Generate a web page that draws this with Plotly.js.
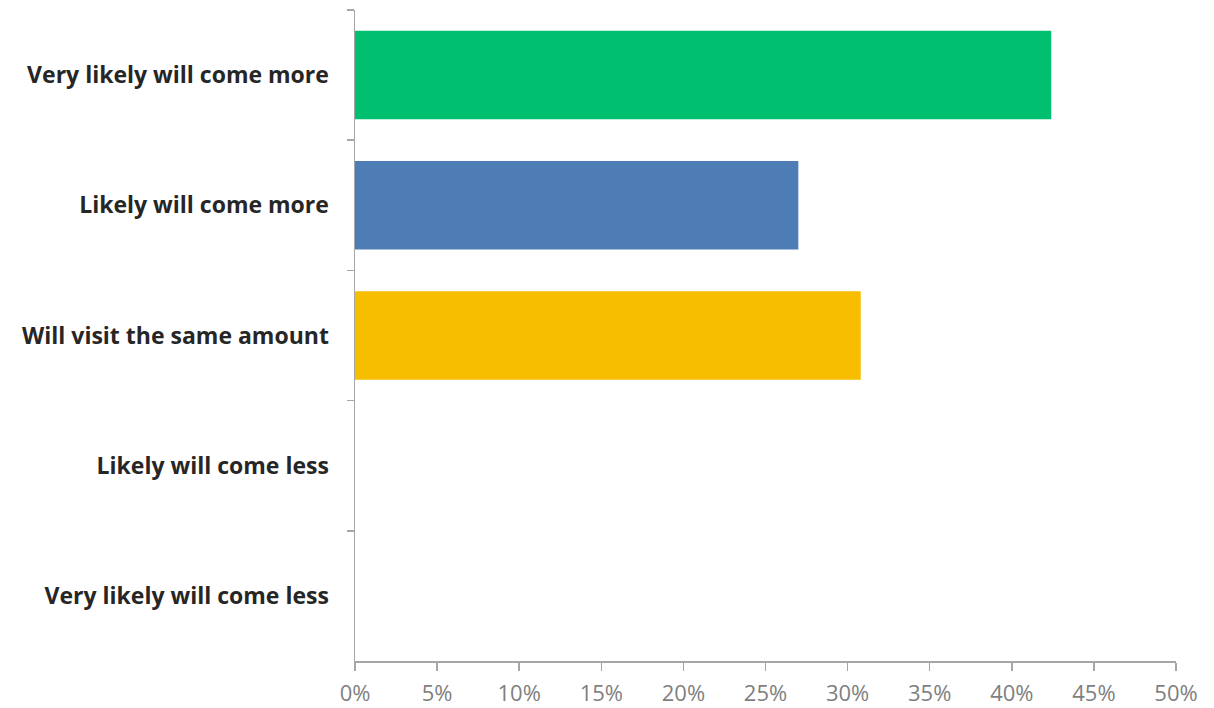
<!DOCTYPE html>
<html>
<head>
<meta charset="utf-8">
<script src="https://cdn.plot.ly/plotly-3.0.1.min.js"></script>
<style>html,body{margin:0;padding:0;background:#fff;}#chart{width:1214px;height:708px;}</style>
</head>
<body>
<div id="chart"></div>
<script>
const categories = ["Very likely will come more", "Likely will come more", "Will visit the same amount", "Likely will come less", "Very likely will come less"];
const values = [0.424, 0.27, 0.308, 0, 0];
const colors = ["#00C070", "#4E7DB6", "#F7BE00", "#A5A5A5", "#A5A5A5"];
const xTickVals = [0, 0.05, 0.10, 0.15, 0.20, 0.25, 0.30, 0.35, 0.40, 0.45, 0.50];

Plotly.newPlot("chart", [{
  type: "bar",
  orientation: "h",
  y: categories,
  x: values,
  marker: {color: colors},
  width: 0.68,
  hoverinfo: "x+y"
}], {
  width: 1214, height: 708,
  margin: {l: 355, r: 38, t: 10, b: 47},
  paper_bgcolor: "#fff", plot_bgcolor: "#fff",
  showlegend: false,
  xaxis: {
    range: [0, 0.5],
    tickvals: xTickVals,
    tickformat: ".0%",
    showgrid: false, zeroline: false,
    showline: true, linecolor: "#A6A6A6", linewidth: 1.5,
    ticks: "outside", ticklen: 8, tickcolor: "#A6A6A6", tickwidth: 1.5,
    ticklabelstandoff: 4,
    tickfont: {family: "'Open Sans', sans-serif", size: 22, color: "#7F7F7F"},
    fixedrange: true
  },
  yaxis: {
    type: "category",
    autorange: "reversed",
    showgrid: false, zeroline: false,
    showline: true, linecolor: "#A6A6A6", linewidth: 1.5,
    ticks: "outside", ticklen: 7, tickcolor: "#A6A6A6", tickwidth: 1.5,
    tickson: "boundaries",
    ticklabelstandoff: 20,
    tickfont: {family: "'Open Sans', sans-serif", size: 23, color: "#262626", weight: "bold"},
    fixedrange: true
  }
}, {displayModeBar: false, staticPlot: true});
</script>
</body>
</html>
